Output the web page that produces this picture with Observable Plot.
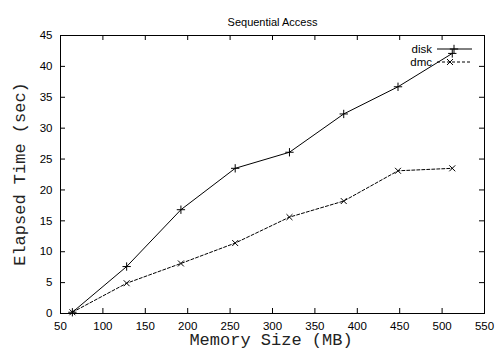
<!DOCTYPE html>
<html><head><meta charset="utf-8">
<script src="https://cdn.jsdelivr.net/npm/d3@7"></script>
<script src="https://cdn.jsdelivr.net/npm/@observablehq/plot@0.6"></script>
<style>body{margin:0;background:#fff}</style>
</head><body><div id="chart"></div>
<script>
const memorySizes = [64, 128, 192, 256, 320, 384, 448, 512];
const diskTimes = [0.2, 7.6, 16.8, 23.5, 26.1, 32.3, 36.7, 42.1];
const dmcTimes = [0.2, 4.9, 8.1, 11.4, 15.6, 18.2, 23.1, 23.5];
const xTicks = [50, 100, 150, 200, 250, 300, 350, 400, 450, 500, 550];
const yTicks = [0, 5, 10, 15, 20, 25, 30, 35, 40, 45];
const seriesNames = ["disk", "dmc"];
const title = "Sequential Access";

const disk = memorySizes.map((m, i) => ({m, t: diskTimes[i]}));
const dmc = memorySizes.map((m, i) => ({m, t: dmcTimes[i]}));

const W = 496, H = 351;
const mL = 60, mR = 12, mT = 35, mB = 38;
const fh = H - mT - mB;
const tk = 5;
const sans = "'Liberation Sans', Arial, sans-serif";
const mono = "'Liberation Mono', 'Courier New', Courier, monospace";

const plot = Plot.plot({
  width: W, height: H,
  marginLeft: mL, marginRight: mR, marginTop: mT, marginBottom: mB,
  style: {fontFamily: sans, fontSize: "11px", color: "#000", background: "#fff"},
  x: {domain: [50, 550]},
  y: {domain: [0, 45]},
  marks: [
    Plot.frame({stroke: "#000", strokeWidth: 1}),
    Plot.ruleX(xTicks, {x: d => d, insetTop: fh - tk, stroke: "#000"}),
    Plot.ruleX(xTicks, {x: d => d, insetBottom: fh - tk, stroke: "#000"}),
    Plot.ruleY(yTicks, {y: d => d, insetRight: (W - mL - mR) - tk, stroke: "#000"}),
    Plot.ruleY(yTicks, {y: d => d, insetLeft: (W - mL - mR) - tk, stroke: "#000"}),
    Plot.axisX({ticks: xTicks, tickSize: 0, tickPadding: 8, label: null, fontSize: 11.5}),
    Plot.axisY({ticks: yTicks, tickSize: 0, tickPadding: 8, label: null, fontSize: 11.5}),
    Plot.line(disk, {x: "m", y: "t", stroke: "#000", strokeWidth: 1}),
    Plot.line(dmc, {x: "m", y: "t", stroke: "#000", strokeWidth: 1, strokeDasharray: "3,2"}),
    Plot.dot(disk, {x: "m", y: "t", symbol: "plus", r: 2.8, stroke: "#000", strokeWidth: 1}),
    Plot.dot(dmc, {x: "m", y: "t", symbol: "times", r: 2.8, stroke: "#000", strokeWidth: 1}),
    Plot.text([title], {frameAnchor: "top", dy: -17, text: d => d, fontSize: 11, fill: "#000"})
  ]
});

const svg = d3.select(plot);
// axis titles
svg.append("text").attr("x", 271).attr("y", 345)
  .attr("text-anchor", "middle").attr("font-family", mono).attr("font-size", 17)
  .attr("font-weight", "normal").attr("fill", "#222").text("Memory Size (MB)");
svg.append("text").attr("transform", `translate(25,${mT + fh / 2}) rotate(-90)`)
  .attr("text-anchor", "middle").attr("font-family", mono).attr("font-size", 17)
  .attr("font-weight", "normal").attr("fill", "#222").text("Elapsed Time (sec)");

// legend
const lg = svg.append("g");
const rowsY = [49, 62];
seriesNames.forEach((name, i) => {
  const y = rowsY[i];
  lg.append("text").attr("x", 432).attr("y", y).attr("dy", "0.35em")
    .attr("text-anchor", "end").attr("font-family", sans).attr("font-size", 11.5)
    .attr("fill", "#000").text(name);
  lg.append("line").attr("x1", 437).attr("x2", 472).attr("y1", y).attr("y2", y)
    .attr("stroke", "#000").attr("stroke-dasharray", i === 1 ? "3,2" : null);
  const sym = d3.symbol(i === 0 ? d3.symbolPlus : d3.symbolTimes, 25)();
  lg.append("path").attr("d", sym).attr("transform", `translate(${i === 0 ? 454 : 450},${y})`)
    .attr("fill", "none").attr("stroke", "#000");
});

document.getElementById("chart").appendChild(plot);
</script>
</body></html>
